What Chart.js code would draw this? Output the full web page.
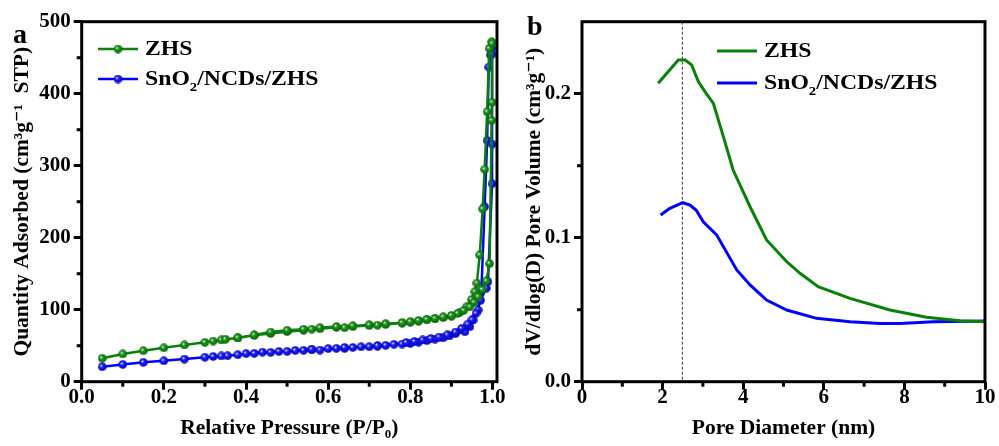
<!DOCTYPE html>
<html><head><meta charset="utf-8">
<script src="https://cdn.jsdelivr.net/npm/chart.js@4/dist/chart.umd.min.js"></script>
<style>
html,body{margin:0;padding:0;background:#fff;}
body{width:999px;height:446px;position:relative;overflow:hidden;}
#ca{position:absolute;left:0;top:0;}
#cb{position:absolute;left:500px;top:0;}
</style></head><body>
<canvas id="ca" width="520" height="446"></canvas>
<canvas id="cb" width="499" height="446"></canvas>
<script>
// ---------- Data: panel a (N2 isotherms) ----------
const seriesNames = ['ZHS', 'SnO₂/NCDs/ZHS'];
const zhsPressure = [0.05,0.10,0.15,0.20,0.25,0.30,0.32,0.34,0.35,0.38,0.42,0.46,0.50,0.54,0.56,0.58,0.62,0.64,0.66,0.70,0.72,0.74,0.78,0.80,0.82,0.84,0.86,0.88,0.90,0.92,0.937,0.949,0.957,0.962,0.969,0.976,0.981,0.987,0.992,0.998,
  0.999,0.999,0.998,0.993,0.985,0.975,0.965,0.955,0.945,0.93,0.915,0.90,0.88,0.86,0.84,0.82,0.80,0.78,0.74,0.70,0.66,0.62,0.58,0.54,0.50,0.46,0.42,0.38];
const zhsAdsorbed = [32.5,38.5,43,47,51,54.7,56.5,58,59,60.7,64.4,67,69.5,71.5,73,73.5,75.5,75,76.5,78,78.5,79.5,81.5,82.5,84,86,87.5,89,91,96,104,114,125,137,176,240,295,375,463,472,
  470,388,363,164,140,128,118,110,104,99,95,92,90,88,86.5,85,83.5,82,80.5,79,77.5,76.5,75,73,71.5,69,65,61];
const snoPressure = [0.05,0.10,0.15,0.20,0.25,0.30,0.32,0.34,0.355,0.38,0.42,0.46,0.50,0.54,0.56,0.58,0.62,0.64,0.66,0.70,0.72,0.74,0.78,0.80,0.82,0.84,0.86,0.88,0.895,0.91,0.933,0.945,0.953,0.965,0.973,0.981,0.987,0.991,0.995,0.998,
  0.999,0.999,0.999,0.989,0.985,0.971,0.96,0.95,0.94,0.925,0.91,0.89,0.87,0.85,0.83,0.81,0.79,0.76,0.72,0.68,0.64,0.60,0.56,0.52,0.48,0.44,0.40];
const snoAdsorbed = [20.8,24,27,29,31.5,34,35,35.7,36,37.5,39.4,40.8,42.2,43.6,44.5,44,46.3,46.3,47.5,48.6,49.5,50.5,52.3,53.2,55,57,59.3,61,63.5,66.8,69.4,76.4,85.7,99.6,127,243,335,437,454,463,
  455,330,275,139,130,113,95,86,80,74,69,65,62,60,58,56,54.5,52,50,48.5,47.5,46,45,43.5,42,41,39];

// ---------- Data: panel b (pore size distribution) ----------
const zhsDiameter = [1.89,2.39,2.56,2.72,2.89,3.05,3.26,3.51,3.75,4.17,4.58,5.08,5.41,5.86,6.65,7.64,8.55,9.38,10.0];
const zhsPoreVolume = [0.2072,0.2234,0.2234,0.2200,0.2083,0.2014,0.1933,0.1700,0.1470,0.1215,0.0984,0.0833,0.0753,0.0660,0.0579,0.0498,0.0447,0.0424,0.0417];
const snoDiameter = [1.95,2.18,2.50,2.68,2.83,3.01,3.34,3.84,4.17,4.58,5.08,5.82,6.65,7.39,7.89,8.72,10.0];
const snoPoreVolume = [0.1158,0.1204,0.1243,0.1227,0.1192,0.1110,0.1020,0.0776,0.0672,0.0567,0.0498,0.0440,0.0417,0.0405,0.0405,0.0417,0.0421];
const peakDiameter = 2.49;

// ---------- Tick / label text ----------
const panelLabels = ['a', 'b'];
const titleAX = 'Relative Pressure (P/P₀)';
const titleAY = 'Quantity Adsorbed (cm³g⁻¹  STP)';
const titleBX = 'Pore Diameter (nm)';
const titleBY = 'dV/dlog(D) Pore Volume (cm³g⁻¹)';
const minorAX = [0.1,0.3,0.5,0.7,0.9];
const minorAY = [50,150,250,350,450];
const minorBX = [1,3,5,7,9];
const minorBY = [0.05,0.15];

// ---------- Styles ----------
const GREEN = '#0a800a';
const BLUE = '#0000ff';
const FONT = "'Liberation Serif', 'Times New Roman', 'DejaVu Serif', serif";
const toXY = (xs, ys) => xs.map((x, i) => ({x: x, y: ys[i]}));

function sphere(color, dark) {
  const c = document.createElement('canvas');
  c.width = 9; c.height = 9;
  const g = c.getContext('2d');
  const gr = g.createRadialGradient(3.3, 3.3, 0.3, 4.5, 4.5, 4.6);
  gr.addColorStop(0, 'rgba(235,240,255,1)');
  gr.addColorStop(0.3, color);
  gr.addColorStop(1, dark);
  g.fillStyle = gr;
  g.beginPath(); g.arc(4.5, 4.5, 4.3, 0, Math.PI * 2); g.fill();
  return c;
}

// draw text with unicode sub/superscripts rendered as small shifted digits
const SUB = '₀₁₂₃₄₅₆₇₈₉', SUP = '⁰¹²³⁴⁵⁶⁷⁸⁹', SUPMAP = {'¹':'1','²':'2','³':'3','⁻':'-'};
function drawRich(ctx, text, x, y, size, stretch) {
  ctx.save();
  ctx.translate(x, y);
  ctx.scale(stretch, 1);
  ctx.textBaseline = 'middle';
  ctx.textAlign = 'left';
  let cx = 0;
  for (const ch of text) {
    let s = ch, dy = 0, fs = size;
    const si = SUB.indexOf(ch);
    if (si >= 0) { s = String(si); dy = size * 0.38; fs = size * 0.62; }
    else if (SUPMAP[ch] || SUP.indexOf(ch) >= 0) { s = SUPMAP[ch] || String(SUP.indexOf(ch)); dy = -size * 0.38; fs = size * 0.62; }
    ctx.font = 'bold ' + fs + 'px ' + FONT;
    ctx.fillText(s, cx, dy);
    cx += ctx.measureText(s).width;
  }
  ctx.restore();
}

const framePlugin = {
  id: 'frame',
  beforeDatasetsDraw(chart, args, o) {
    if (o.dashX === undefined) return;
    const {ctx, chartArea: a} = chart;
    const px = chart.scales.x.getPixelForValue(o.dashX);
    ctx.save();
    ctx.strokeStyle = '#333'; ctx.lineWidth = 1; ctx.setLineDash([3, 2]);
    ctx.beginPath(); ctx.moveTo(px, a.top); ctx.lineTo(px, a.bottom); ctx.stroke();
    ctx.restore();
  },
  afterDraw(chart, args, o) {
    const {ctx, chartArea: a} = chart;
    const xs = chart.scales.x, ys = chart.scales.y;
    ctx.save();
    ctx.strokeStyle = '#000'; ctx.lineWidth = 3;
    o.minorX.forEach(v => { const p = xs.getPixelForValue(v); ctx.beginPath(); ctx.moveTo(p, a.bottom); ctx.lineTo(p, a.bottom + 5); ctx.stroke(); });
    o.minorY.forEach(v => { const p = ys.getPixelForValue(v); ctx.beginPath(); ctx.moveTo(a.left, p); ctx.lineTo(a.left - 5, p); ctx.stroke(); });
    ctx.strokeRect(a.left, a.top, a.right - a.left, a.bottom - a.top);
    // panel label
    ctx.fillStyle = '#000';
    ctx.font = 'bold 28px ' + FONT;
    ctx.textBaseline = 'alphabetic'; ctx.textAlign = 'left';
    ctx.fillText(o.label, o.labelX, o.labelY);
    // legend
    chart.data.datasets.forEach((ds, i) => {
      const y = o.legY + i * o.legDy;
      ctx.strokeStyle = ds.borderColor; ctx.lineWidth = ds.borderWidth; ctx.setLineDash([]);
      ctx.beginPath(); ctx.moveTo(o.legX, y); ctx.lineTo(o.legX + 40, y); ctx.stroke();
      if (ds.pointStyle && typeof ds.pointStyle === 'object') {
        ctx.drawImage(ds.pointStyle, o.legX + 20 - ds.pointStyle.width / 2, y - ds.pointStyle.height / 2);
      }
      ctx.fillStyle = '#000';
      drawRich(ctx, ds.label, o.legX + 47, y + 1, 21, 1.13);
    });
    ctx.restore();
  }
};

const tickFont = {family: FONT, size: 21, weight: 'bold'};
const titleFont = {family: FONT, size: 21.5, weight: 'bold'};
const gridCfg = {display: true, drawOnChartArea: false, drawTicks: true, tickLength: 8, tickWidth: 3, tickColor: '#000'};

function makeScales(o) {
  return {
    x: {
      type: 'linear', min: o.xmin, max: o.xmax,
      afterFit(s) { s.height = o.xh; s.paddingLeft = 0; s.paddingRight = 0; },
      ticks: {stepSize: o.xstep, includeBounds: false, autoSkip: false, maxRotation: 0, color: '#000', font: tickFont, padding: -5,
              callback: o.xfmt},
      grid: gridCfg, border: {display: false},
      title: {display: true, text: o.xtitle, color: '#000', font: titleFont, padding: {top: 0, bottom: 5}}
    },
    y: {
      type: 'linear', min: o.ymin, max: o.ymax,
      afterFit(s) { s.width = o.yw; s.paddingTop = 0; s.paddingBottom = 0; },
      ticks: {stepSize: o.ystep, includeBounds: false, autoSkip: false, color: '#000', font: tickFont, padding: 3,
              callback: o.yfmt},
      grid: gridCfg, border: {display: false},
      title: {display: true, text: o.ytitle, color: '#000', font: titleFont, padding: {top: o.ytp, bottom: 0}}
    }
  };
}

Chart.defaults.font.family = FONT;

new Chart(document.getElementById('ca'), {
  type: 'line',
  data: {datasets: [
    {label: seriesNames[0], data: toXY(zhsPressure, zhsAdsorbed), borderColor: GREEN, backgroundColor: GREEN, borderWidth: 2.5,
     pointStyle: sphere('#1c9a1c', '#0a600a'), pointRadius: 4.5, tension: 0},
    {label: seriesNames[1], data: toXY(snoPressure, snoAdsorbed), borderColor: BLUE, backgroundColor: BLUE, borderWidth: 2.5,
     pointStyle: sphere('#2020ff', '#0000b0'), pointRadius: 4.5, tension: 0}
  ]},
  options: {
    responsive: false, animation: false, devicePixelRatio: 1,
    layout: {padding: {left: 0, top: 21.7, right: 23, bottom: 0}},
    plugins: {legend: {display: false}, tooltip: {enabled: false},
      frame: {minorX: minorAX, minorY: minorAY, label: panelLabels[0], labelX: 13, labelY: 43, legX: 98, legY: 49, legDy: 30}},
    scales: makeScales({xmin: 0, xmax: 1.011, xstep: 0.2, xfmt: v => v.toFixed(1), xh: 446 - 381.7, xtitle: titleAX,
      ymin: 0, ymax: 500, ystep: 100, yfmt: v => String(v), yw: 81.7, ytitle: titleAY, ytp: 10})
  },
  plugins: [framePlugin]
});

new Chart(document.getElementById('cb'), {
  type: 'line',
  data: {datasets: [
    {label: seriesNames[0], data: toXY(zhsDiameter, zhsPoreVolume), borderColor: GREEN, borderWidth: 3, pointRadius: 0, tension: 0},
    {label: seriesNames[1], data: toXY(snoDiameter, snoPoreVolume), borderColor: BLUE, borderWidth: 3, pointRadius: 0, tension: 0}
  ]},
  options: {
    responsive: false, animation: false, devicePixelRatio: 1,
    layout: {padding: {left: 0, top: 21.7, right: 14, bottom: 0}},
    plugins: {legend: {display: false}, tooltip: {enabled: false},
      frame: {dashX: peakDiameter, minorX: minorBX, minorY: minorBY, label: panelLabels[1], labelX: 27, labelY: 35, legX: 217, legY: 51, legDy: 32}},
    scales: makeScales({xmin: 0, xmax: 10, xstep: 2, xfmt: v => String(v), xh: 446 - 381.7, xtitle: titleBX,
      ymin: 0, ymax: 0.25, ystep: 0.1, yfmt: v => v.toFixed(1), yw: 82, ytitle: titleBY, ytp: 22})
  },
  plugins: [framePlugin]
});
</script>
</body></html>
